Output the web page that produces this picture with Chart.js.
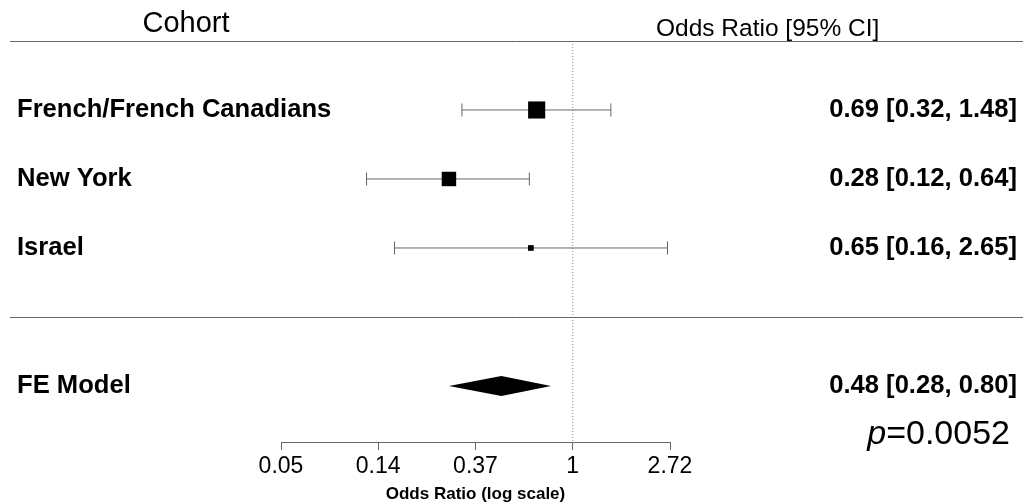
<!DOCTYPE html>
<html>
<head>
<meta charset="utf-8">
<script src="https://cdn.jsdelivr.net/npm/chart.js@4.4.1/dist/chart.umd.min.js"></script>
<style>
  html, body { margin: 0; padding: 0; background: #fff; }
  canvas { display: block; }
</style>
</head>
<body>
<canvas id="forest" width="1023" height="503"></canvas>
<script>
// study rows
const cohorts = ["French/French Canadians", "New York", "Israel"];
const estimates = [0.69, 0.28, 0.65];
const lowerCI = [0.32, 0.12, 0.16];
const upperCI = [1.48, 0.64, 2.65];
const rows = [6, 5, 4];

// pooled model
const modelLabel = "FE Model";
const modelEstimate = 0.48;
const modelLower = 0.28;
const modelUpper = 0.80;
const modelRow = 2;
const pValue = "0.0052";

// x axis (log scale)
const tickValues = [0.0498, 0.1353, 0.3679, 1, 2.7183];
const tickLabels = ["0.05", "0.14", "0.37", "1", "2.72"];

const headerRow = 7;
const separatorRow = 3;
const yMin = 1.188;
const yMax = 7.594;

const FONT = "'Liberation Sans', Arial, Helvetica, sans-serif";
const lineGrey = "#666666";

// square size from inverse-variance weight (metafor style: 0.5..1.5)
const weights = lowerCI.map((lo, i) => {
  const se = (Math.log(upperCI[i]) - Math.log(lo)) / (2 * 1.96);
  return 1 / (se * se);
});
const wMin = Math.min(...weights);
const wMax = Math.max(...weights);
const squareSide = weights.map(w => 11.4 * (0.5 + (w - wMin) / (wMax - wMin)));
const squareRadius = squareSide.map(s => s / Math.SQRT2);

const fmt = v => v.toFixed(2);

const ciDatasets = cohorts.map((c, i) => ({
  type: "scatter",
  label: c + " CI",
  data: [{ x: lowerCI[i], y: rows[i] }, { x: upperCI[i], y: rows[i] }],
  showLine: true,
  borderColor: lineGrey,
  borderWidth: 1,
  pointStyle: "line",
  pointRotation: 90,
  pointRadius: 6.5,
  pointBorderColor: lineGrey,
  pointBorderWidth: 1,
  order: 1,
}));

const forestText = {
  id: "forestText",
  afterDatasetsDraw(chart) {
    const ctx = chart.ctx;
    const x = chart.scales.x;
    const y = chart.scales.y;
    ctx.save();

    // header + separator lines
    ctx.strokeStyle = lineGrey;
    ctx.lineWidth = 1;
    [headerRow, separatorRow].forEach(r => {
      const py = Math.round(y.getPixelForValue(r)) + 0.5;
      ctx.beginPath();
      ctx.moveTo(10, py);
      ctx.lineTo(chart.width, py);
      ctx.stroke();
    });

    // summary diamond
    const dy = y.getPixelForValue(modelRow);
    ctx.fillStyle = "#000";
    ctx.beginPath();
    ctx.moveTo(x.getPixelForValue(modelLower), dy);
    ctx.lineTo(x.getPixelForValue(modelEstimate), dy - 10);
    ctx.lineTo(x.getPixelForValue(modelUpper), dy);
    ctx.lineTo(x.getPixelForValue(modelEstimate), dy + 10);
    ctx.closePath();
    ctx.fill();

    // headings
    ctx.fillStyle = "#000";
    ctx.textBaseline = "alphabetic";
    ctx.font = "29px " + FONT;
    ctx.textAlign = "center";
    ctx.fillText("Cohort", 186, 32);
    ctx.font = "24.5px " + FONT;
    ctx.textAlign = "left";
    ctx.fillText("Odds Ratio [95% CI]", 656, 36);

    // row labels + annotations
    ctx.textBaseline = "middle";
    ctx.font = "bold 25.6px " + FONT;
    cohorts.forEach((c, i) => {
      const py = y.getPixelForValue(rows[i]);
      ctx.textAlign = "left";
      ctx.fillText(c, 17, py);
      ctx.textAlign = "right";
      ctx.fillText(`${fmt(estimates[i])} [${fmt(lowerCI[i])}, ${fmt(upperCI[i])}]`, 1017, py);
    });
    ctx.textAlign = "left";
    ctx.fillText(modelLabel, 17, dy);
    ctx.textAlign = "right";
    ctx.fillText(`${fmt(modelEstimate)} [${fmt(modelLower)}, ${fmt(modelUpper)}]`, 1017, dy);

    // p value
    ctx.textBaseline = "alphabetic";
    ctx.textAlign = "left";
    ctx.font = "34px " + FONT;
    const rest = "=" + pValue;
    const restW = ctx.measureText(rest).width;
    ctx.font = "italic 34px " + FONT;
    const pW = ctx.measureText("p").width;
    const startX = 1010 - restW - pW;
    ctx.fillText("p", startX, 444);
    ctx.font = "34px " + FONT;
    ctx.fillText(rest, startX + pW, 444);

    ctx.restore();
  },
};

const ctx = document.getElementById("forest").getContext("2d");
const forestChart = new Chart(ctx, {
  type: "scatter",
  data: {
    datasets: [
      {
        type: "scatter",
        label: "Odds ratio",
        data: estimates.map((v, i) => ({ x: v, y: rows[i] })),
        pointStyle: "rect",
        pointRadius: squareRadius,
        pointBackgroundColor: "#000",
        pointBorderWidth: 0,
        order: 0,
      },
      ...ciDatasets,
      {
        type: "scatter",
        label: "No effect",
        data: [{ x: 1, y: headerRow }, { x: 1, y: yMin }],
        showLine: true,
        borderColor: "#8a8a8a",
        borderWidth: 1,
        borderDash: [1, 2],
        pointRadius: 0,
        order: 2,
      },
    ],
  },
  options: {
    responsive: false,
    maintainAspectRatio: false,
    animation: false,
    events: [],
    layout: { autoPadding: false, padding: { left: 281, right: 353, top: 0, bottom: 0 } },
    plugins: {
      legend: { display: false },
      tooltip: { enabled: false },
    },
    scales: {
      x: {
        type: "logarithmic",
        bounds: "data",
        min: tickValues[0],
        max: tickValues[tickValues.length - 1],
        afterBuildTicks: (scale) => {
          scale.ticks = tickValues.map(v => ({ value: v }));
        },
        ticks: {
          autoSkip: false,
          maxRotation: 0,
          padding: 5,
          color: "#000",
          font: { family: FONT, size: 23, lineHeight: 1 },
          callback: (v, i) => tickLabels[i],
        },
        grid: { drawOnChartArea: false, tickLength: 8, color: lineGrey, lineWidth: 1 },
        border: { display: true, color: lineGrey, width: 1 },
        title: {
          display: true,
          text: "Odds Ratio (log scale)",
          color: "#000",
          font: { family: FONT, size: 17, weight: "bold", lineHeight: 1 },
          padding: { top: 3, bottom: 0 },
        },
      },
      y: {
        type: "linear",
        display: false,
        min: yMin,
        max: yMax,
      },
    },
  },
  plugins: [forestText],
});
</script>
</body>
</html>
